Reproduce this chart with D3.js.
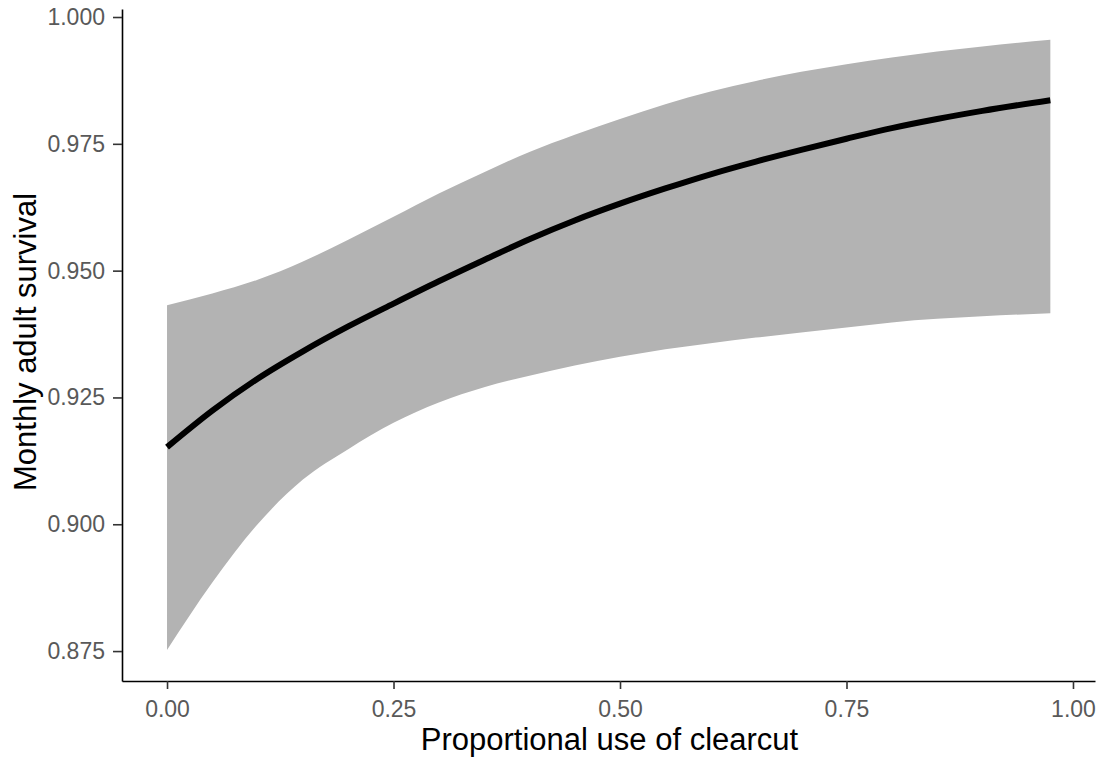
<!DOCTYPE html>
<html>
<head>
<meta charset="utf-8">
<script src="https://cdn.jsdelivr.net/npm/d3@7"></script>
<style>
  body { margin: 0; background: #fff; }
  text { font-family: "Liberation Sans", Arial, sans-serif; }
</style>
</head>
<body>
<div id="chart"></div>
<script>
// proportional use of clearcut
const xs    = [0, 0.05, 0.1, 0.15, 0.2, 0.25, 0.3, 0.35, 0.4, 0.45, 0.5, 0.55, 0.6, 0.65, 0.7, 0.75, 0.8, 0.85, 0.9, 0.975];
// fitted monthly survival and its confidence band
const fit   = [0.9152, 0.9224, 0.9287, 0.9341, 0.9390, 0.9435, 0.9479, 0.9521, 0.9562, 0.9599, 0.9632, 0.9662, 0.9690, 0.9715, 0.9738, 0.9760, 0.9781, 0.9799, 0.9815, 0.9836];
const upper = [0.9432, 0.9455, 0.9482, 0.9518, 0.9561, 0.9606, 0.9652, 0.9694, 0.9734, 0.9768, 0.9799, 0.9828, 0.9853, 0.9874, 0.9892, 0.9907, 0.9920, 0.9932, 0.9942, 0.9955];
const lower = [0.8752, 0.8885, 0.9000, 0.9088, 0.9148, 0.9200, 0.9240, 0.9270, 0.9293, 0.9313, 0.9330, 0.9345, 0.9357, 0.9368, 0.9378, 0.9388, 0.9398, 0.9405, 0.9410, 0.9416];

const xTicks = [0, 0.25, 0.5, 0.75, 1];
const yTicks = [0.875, 0.9, 0.925, 0.95, 0.975, 1];

const data = xs.map((x, i) => ({ x: x, y: fit[i], lo: lower[i], hi: upper[i] }));

const width = 1102, height = 759;
const plotLeft = 122, plotRight = 1095, plotTop = 9, plotBottom = 681;

const svg = d3.select("#chart")
  .append("svg")
  .attr("width", width)
  .attr("height", height);

const x = d3.scaleLinear().domain([-0.0497, 1.0243]).range([plotLeft, plotRight]);
const y = d3.scaleLinear().domain([0.8691, 1.00158]).range([plotBottom, plotTop]);

svg.append("path")
  .datum(data)
  .attr("fill", "#b3b3b3")
  .attr("d", d3.area()
    .x(d => x(d.x))
    .y0(d => y(d.lo))
    .y1(d => y(d.hi))
    .curve(d3.curveMonotoneX));

svg.append("path")
  .datum(data)
  .attr("fill", "none")
  .attr("stroke", "#000")
  .attr("stroke-width", 6)
  .attr("d", d3.line()
    .x(d => x(d.x))
    .y(d => y(d.y))
    .curve(d3.curveMonotoneX));

const xAxis = svg.append("g")
  .attr("transform", `translate(0,${plotBottom})`)
  .call(d3.axisBottom(x).tickValues(xTicks).tickFormat(d3.format(".2f")).tickSize(8).tickPadding(12).tickSizeOuter(0));

const yAxis = svg.append("g")
  .attr("transform", `translate(${plotLeft},0)`)
  .call(d3.axisLeft(y).tickValues(yTicks).tickFormat(d3.format(".3f")).tickSize(9).tickPadding(8).tickSizeOuter(0));

[xAxis, yAxis].forEach(g => {
  g.select(".domain").attr("stroke", "#000").attr("stroke-width", 1.6);
  g.selectAll(".tick line").attr("stroke", "#333").attr("stroke-width", 1.6);
  g.selectAll(".tick text")
    .attr("fill", "#595959")
    .style("font-size", "23px");
});

svg.append("text")
  .attr("x", 609.5)
  .attr("y", 750)
  .attr("text-anchor", "middle")
  .style("font-size", "31px")
  .attr("fill", "#000")
  .text("Proportional use of clearcut");

svg.append("text")
  .attr("transform", `translate(36,342) rotate(-90)`)
  .attr("text-anchor", "middle")
  .style("font-size", "31px")
  .attr("fill", "#000")
  .text("Monthly adult survival");
</script>
</body>
</html>
